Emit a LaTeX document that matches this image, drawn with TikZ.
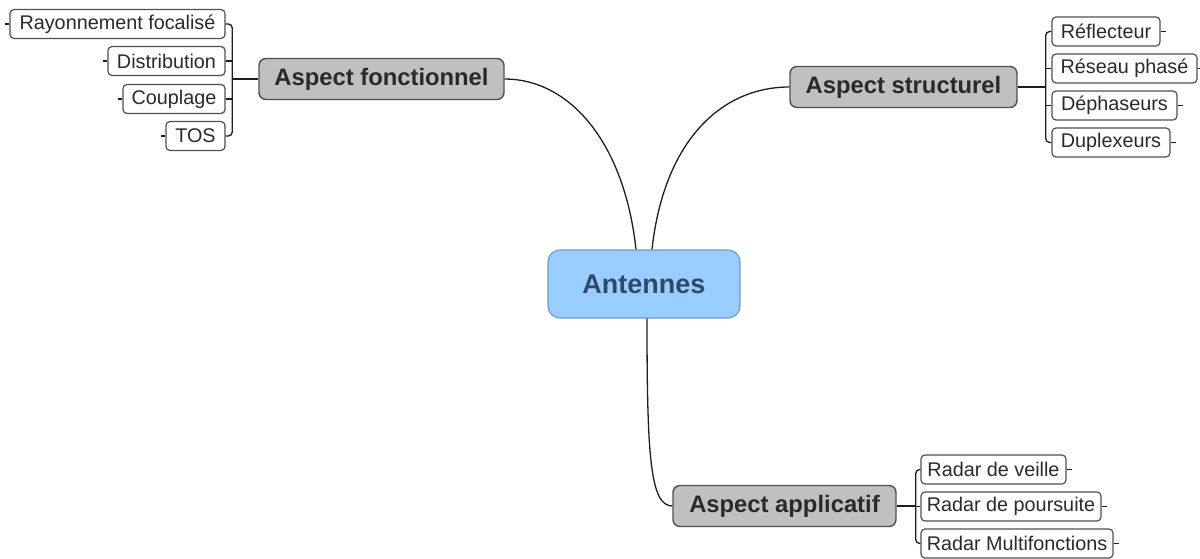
\documentclass[tikz,border=0pt]{standalone}
\usepackage{fontspec}
\setmainfont{Liberation Sans}
\definecolor{centerfill}{HTML}{99CCFF}
\definecolor{centerdraw}{HTML}{6E9CCF}
\definecolor{centertext}{HTML}{2E4A66}
\definecolor{aspfill}{HTML}{C0C0C0}
\definecolor{boxdraw}{HTML}{505050}
\definecolor{txt}{HTML}{2A2A2A}
\definecolor{linec}{HTML}{1E1E1E}
\tikzset{
  leaf/.style={draw=boxdraw, fill=white, line width=1.2pt, rounded corners=4pt,
    inner sep=0pt, minimum height=29pt, text=txt,
    font=\fontsize{19.8}{22}\selectfont},
  aspect/.style={draw=boxdraw, fill=aspfill, line width=1.4pt, rounded corners=7pt,
    inner sep=0pt, minimum height=41pt, text=txt,
    font=\fontsize{23.8}{26}\selectfont\bfseries},
  central/.style={draw=centerdraw, fill=centerfill, line width=1.2pt, rounded corners=12pt,
    inner sep=0pt, minimum width=192pt, minimum height=68pt, text=centertext,
    font=\fontsize{27}{30}\selectfont\bfseries},
  conn/.style={draw=linec, line width=1.3pt},
}
\begin{document}
\begin{tikzpicture}[x=1pt,y=-1pt]
\useasboundingbox (0,0) rectangle (1200,559);
% central
\node[central] (an) at (644,284) {Antennes};
% aspects
\node[aspect, minimum width=245pt] (af) at (381.5,79) {Aspect fonctionnel};
\node[aspect, minimum width=227pt] (as) at (903.5,87) {Aspect structurel};
\node[aspect, minimum width=223pt] (ap) at (784.5,506) {Aspect applicatif};
% left leaves
\node[leaf, minimum width=215pt] (rf) at (117.5,24) {Rayonnement focalisé};
\node[leaf, minimum width=117pt] (di) at (166.5,61) {Distribution};
\node[leaf, minimum width=102pt] (co) at (174,99) {Couplage};
\node[leaf, minimum width=59pt] (to) at (195.5,136) {TOS};
% right leaves
\node[leaf, minimum width=108pt] (re) at (1106,31.5) {Réflecteur};
\node[leaf, minimum width=145pt] (rp) at (1124.5,68.5) {Réseau phasé};
\node[leaf, minimum width=125pt] (de) at (1114.5,105.5) {Déphaseurs};
\node[leaf, minimum width=118pt] (du) at (1111,142.5) {Duplexeurs};
% bottom leaves
\node[leaf, minimum width=145pt] (rv) at (993.5,469.5) {Radar de veille};
\node[leaf, minimum width=180pt] (rpo) at (1011,506.5) {Radar de poursuite};
\node[leaf, minimum width=192pt] (rm) at (1017,543.5) {Radar Multifonctions};
% anchors for main curves
\coordinate (a1) at ([xshift=-8pt]an.north);
\coordinate (a2) at ([xshift=8pt]an.north);
\coordinate (a3) at ([xshift=3pt]an.south);
\draw[conn] (a1) .. controls (624,140) and (568,79) .. (af.east);
\draw[conn] (a2) .. controls (664,140) and (722,87) .. (as.west);
\draw[conn] (a3) .. controls (647,455) and (650,506) .. (ap.west);
% left bracket
\coordinate (lb) at ([xshift=-26pt]af.west);
\draw[conn, rounded corners=4pt] (rf.east) -- (rf.east -| lb) -- (to.east -| lb) -- (to.east);
\draw[conn] (di.east) -- (di.east -| lb);
\draw[conn] (co.east) -- (co.east -| lb);
\draw[conn] (lb) -- (af.west);
\foreach \n in {rf,di,co,to} \draw[conn] (\n.west) -- ++(-4,0);
% right bracket
\coordinate (rb) at ([xshift=28pt]as.east);
\draw[conn, rounded corners=4pt] (re.west) -- (re.west -| rb) -- (du.west -| rb) -- (du.west);
\draw[conn] (rp.west) -- (rp.west -| rb);
\draw[conn] (de.west) -- (de.west -| rb);
\draw[conn] (as.east) -- (rb);
\foreach \n in {re,rp,de,du} \draw[conn] (\n.east) -- ++(5,0);
% bottom bracket
\coordinate (bb) at ([xshift=19pt]ap.east);
\draw[conn, rounded corners=4pt] (rv.west) -- (rv.west -| bb) -- (rm.west -| bb) -- (rm.west);
\draw[conn] (rpo.west) -- (rpo.west -| bb);
\draw[conn] (ap.east) -- (bb);
\foreach \n in {rv,rpo,rm} \draw[conn] (\n.east) -- ++(5,0);
\end{tikzpicture}
\end{document}
